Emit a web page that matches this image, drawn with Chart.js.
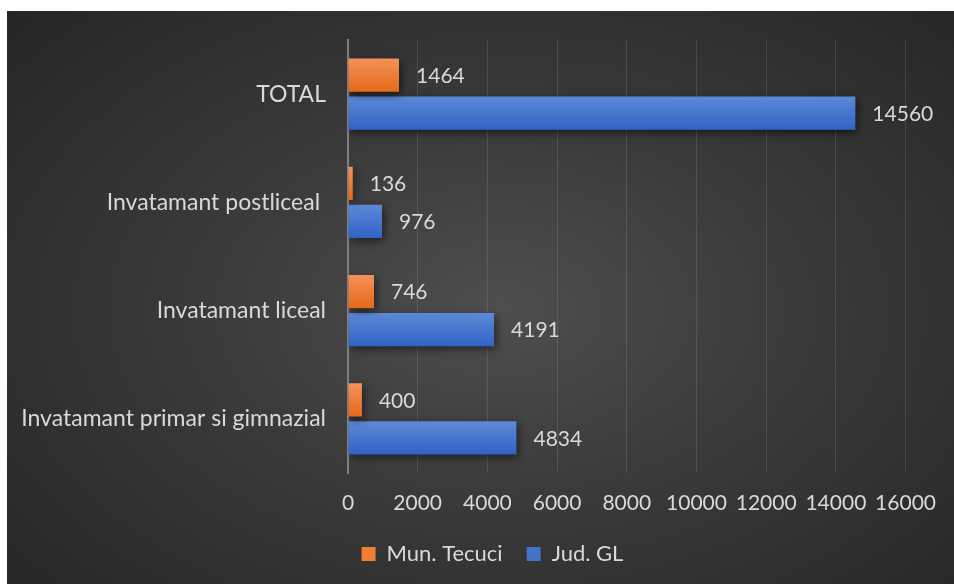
<!DOCTYPE html>
<html>
<head>
<meta charset="utf-8">
<script src="https://cdn.jsdelivr.net/npm/chart.js@4"></script>
<style>
  html, body { margin: 0; padding: 0; background: #fff; }
  #wrap {
    position: absolute; left: 7px; top: 11px; width: 947px; height: 573px;
    background: radial-gradient(ellipse 70% 75% at 52% 52%, #4e4e4e 0%, #3a3a3a 45%, #262626 100%);
  }
  canvas { display: block; }
</style>
</head>
<body>
<div id="wrap"><canvas id="chart" width="947" height="573"></canvas></div>
<script>
// categories, top to bottom
const categories = ["TOTAL", "Invatamant postliceal ", "Invatamant liceal", "Invatamant primar si gimnazial"];
const tecuci = [1464, 136, 746, 400];
const judGL = [14560, 976, 4191, 4834];
const xTicks = [0, 2000, 4000, 6000, 8000, 10000, 12000, 14000, 16000];

const textColor = "#d9d9d9";
const fam = "Lato, 'Open Sans', sans-serif";
// top / bottom shades of each series
const shades = [["#f4925a", "#e5691a"], ["#5c89d8", "#3263c4"]];

// value labels to the right of each bar
const valueLabels = {
    id: "valueLabels",
    afterDatasetsDraw(chart) {
        const ctx = chart.ctx;
        ctx.save();
        ctx.font = "21px " + fam;
        ctx.fillStyle = textColor;
        ctx.textAlign = "left";
        ctx.textBaseline = "middle";
        chart.data.datasets.forEach((ds, i) => {
            chart.getDatasetMeta(i).data.forEach((bar, j) => {
                ctx.fillText(ds.data[j], bar.x + 17, bar.y + 1);
            });
        });
        ctx.restore();
    }
};

// vertical gradient fill and soft shadow under bars
const barLook = {
    id: "barLook",
    afterLayout(chart) {
        // legend sits centred under the plot, not the whole canvas
        chart.legend.left += 32;
        chart.legend.right += 32;
    },
    beforeDatasetsDraw(chart) {
        const ctx = chart.ctx;
        chart.data.datasets.forEach((ds, i) => {
            chart.getDatasetMeta(i).data.forEach(bar => {
                const g = ctx.createLinearGradient(0, bar.y - bar.height / 2, 0, bar.y + bar.height / 2);
                g.addColorStop(0, shades[i][0]);
                g.addColorStop(1, shades[i][1]);
                bar.options = Object.assign({}, bar.options, { backgroundColor: g });
            });
        });
        ctx.save();
        ctx.shadowColor = "rgba(0,0,0,0.55)";
        ctx.shadowBlur = 8;
        ctx.shadowOffsetX = 2;
        ctx.shadowOffsetY = 3;
    },
    afterDatasetsDraw(chart) {
        chart.ctx.restore();
    }
};

new Chart(document.getElementById("chart").getContext("2d"), {
    type: "bar",
    data: {
        labels: categories,
        datasets: [
            { label: "Mun. Tecuci", data: tecuci, backgroundColor: "#ef7d33" },
            { label: "Jud. GL", data: judGL, backgroundColor: "#4673ca" }
        ]
    },
    options: {
        indexAxis: "y",
        responsive: false,
        animation: false,
        layout: { padding: { top: 29, right: 40, left: 0, bottom: 9 } },
        categoryPercentage: 0.7,
        barPercentage: 0.88,
        scales: {
            x: {
                min: 0,
                max: 16000,
                afterBuildTicks(scale) { scale.ticks = xTicks.map(v => ({ value: v })); },
                afterFit(scale) { scale.height = 46; },
                grid: {
                    color: "rgba(255,255,255,0.11)",
                    lineWidth: 1,
                    drawTicks: false
                },
                border: { display: false },
                ticks: {
                    color: textColor,
                    font: { family: fam, size: 21 },
                    padding: 18,
                    maxRotation: 0,
                    callback: v => String(v)
                }
            },
            y: {
                afterFit(scale) {
                    scale.width = 341;
                    scale.paddingTop = 0;
                    scale.paddingBottom = 0;
                },
                grid: { display: false, drawTicks: false },
                border: { display: true, color: "#808080", width: 2 },
                ticks: { color: textColor, font: { family: fam, size: 23 }, padding: 22 }
            }
        },
        plugins: {
            legend: {
                position: "bottom",
                labels: {
                    color: textColor,
                    font: { family: fam, size: 22 },
                    boxWidth: 14,
                    boxHeight: 14,
                    padding: 24
                }
            },
            tooltip: { enabled: false }
        }
    },
    plugins: [barLook, valueLabels]
});
</script>
</body>
</html>
